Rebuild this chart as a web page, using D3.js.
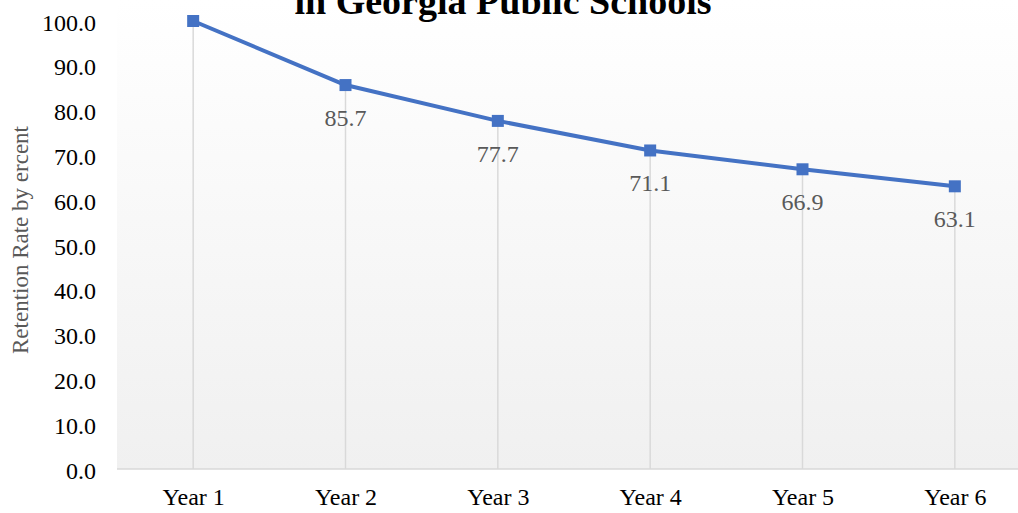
<!DOCTYPE html>
<html>
<head>
<meta charset="utf-8">
<script src="https://cdn.jsdelivr.net/npm/d3@7"></script>
<style>
  html, body { margin: 0; padding: 0; background: #fff; }
  svg { display: block; font-family: "Liberation Serif", "Times New Roman", serif; }
</style>
</head>
<body>
<svg id="chart" width="1018" height="513"></svg>
<script>
// Retention by year
const years = ["Year 1", "Year 2", "Year 3", "Year 4", "Year 5", "Year 6"];
const retention = [100.0, 85.7, 77.7, 71.1, 66.9, 63.1];
const yTicks = [0, 10, 20, 30, 40, 50, 60, 70, 80, 90, 100];
const labelled = [false, true, true, true, true, true];

const svg = d3.select("#chart");
const plot = { left: 117, right: 1031, top: 21, bottom: 469 };
const serif = "Liberation Serif, Times New Roman, serif";

const x = d3.scalePoint()
  .domain(years)
  .range([plot.left, plot.right])
  .padding(0.5);

const y = d3.scaleLinear()
  .domain([0, 100])
  .range([plot.bottom, plot.top]);

// plot area gradient fill
const defs = svg.append("defs");
const grad = defs.append("linearGradient")
  .attr("id", "bg").attr("x1", 0).attr("y1", 0).attr("x2", 0).attr("y2", 1);
grad.append("stop").attr("offset", "0%").attr("stop-color", "#ffffff");
grad.append("stop").attr("offset", "100%").attr("stop-color", "#f0f0f0");

svg.append("rect")
  .attr("x", plot.left).attr("y", 0)
  .attr("width", plot.right - plot.left).attr("height", plot.bottom)
  .attr("fill", "url(#bg)");

// drop lines from each point to the axis
svg.append("g").selectAll("line")
  .data(years)
  .join("line")
  .attr("x1", d => x(d)).attr("x2", d => x(d))
  .attr("y1", (d, i) => y(retention[i])).attr("y2", y(0))
  .attr("stroke", "#d9d9d9").attr("stroke-width", 1.5);

// category axis
const xAxis = svg.append("g")
  .attr("transform", `translate(0,${y(0)})`)
  .call(d3.axisBottom(x).tickSize(0).tickPadding(19));
xAxis.select(".domain").attr("stroke", "#d9d9d9").attr("stroke-width", 1.5)
  .attr("d", `M${plot.left},0H${plot.right}`);
xAxis.selectAll("text")
  .attr("font-family", serif)
  .attr("font-size", 24).attr("fill", "#000");

// value axis
const yAxis = svg.append("g")
  .attr("transform", `translate(${plot.left},0)`)
  .call(d3.axisLeft(y).tickValues(yTicks).tickFormat(d3.format(".1f")).tickSize(0).tickPadding(21));
yAxis.select(".domain").remove();
yAxis.selectAll("text")
  .attr("font-family", serif)
  .attr("font-size", 24).attr("dy", "0.38em").attr("fill", "#000");

// series line
svg.append("path")
  .datum(retention)
  .attr("fill", "none")
  .attr("stroke", "#4472c4")
  .attr("stroke-width", 4)
  .attr("stroke-linejoin", "round")
  .attr("d", d3.line().x((d, i) => x(years[i])).y(d => y(d)));

// square markers
const m = 12;
svg.append("g").selectAll("rect")
  .data(retention)
  .join("rect")
  .attr("x", (d, i) => x(years[i]) - m / 2)
  .attr("y", d => y(d) - m / 2)
  .attr("width", m).attr("height", m)
  .attr("fill", "#4472c4");

// value labels below the points
svg.append("g").selectAll("text")
  .data(retention.map((v, i) => ({ v, i })).filter(d => labelled[d.i]))
  .join("text")
  .attr("x", d => x(years[d.i]))
  .attr("y", d => y(d.v) + 41)
  .attr("text-anchor", "middle")
  .attr("font-family", serif)
  .attr("font-size", 24)
  .attr("fill", "#595959")
  .text(d => d3.format(".1f")(d.v));

// axis title
svg.append("text")
  .attr("transform", `translate(28,240) rotate(-90)`)
  .attr("text-anchor", "middle")
  .attr("font-family", serif)
  .attr("font-size", 23)
  .attr("fill", "#595959")
  .text("Retention Rate by ercent");

// chart title, its lower line sitting against the top edge
svg.append("text")
  .attr("x", 503)
  .attr("y", 14)
  .attr("text-anchor", "middle")
  .attr("font-family", serif)
  .attr("font-size", 38)
  .attr("font-weight", "bold")
  .attr("fill", "#000")
  .text("in Georgia Public Schools");
</script>
</body>
</html>
